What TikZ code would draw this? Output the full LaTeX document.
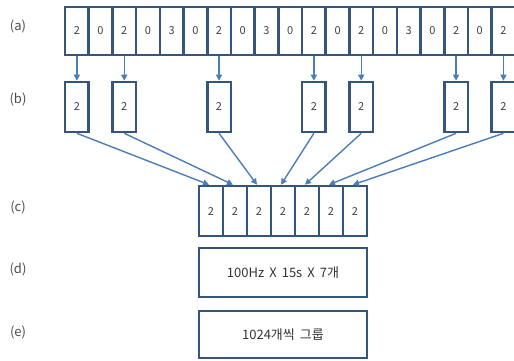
\documentclass[tikz,border=0pt]{standalone}
\usepackage{fontspec}
\setmainfont{Noto Sans CJK KR}
\usetikzlibrary{arrows.meta}
\definecolor{boxline}{HTML}{36557D}
\definecolor{arrowline}{HTML}{4A7DBA}
\tikzset{
  cell/.style={draw=boxline, line width=2.6pt, minimum width=23.7pt, minimum height=48pt, inner sep=0pt, font=\fontsize{11}{13}\selectfont, text=black!75},
  wide/.style={draw=boxline, line width=2.6pt, minimum width=168pt, minimum height=48pt, inner sep=0pt, font=\fontsize{13}{15}\selectfont, text=black!80},
  rowlabel/.style={font=\fontsize{13}{15}\selectfont, text=black!70},
  feed/.style={draw=arrowline, line width=1.4pt, -{Triangle[length=6pt,width=6pt]}}
}
\begin{document}
\begin{tikzpicture}[x=1pt, y=-1pt]
			%%%%% START %%%%%
			\useasboundingbox (0, 0) rectangle (514, 360);
			
			\node[rowlabel] (la) at (18, 26) {(a)};
			\node[rowlabel] (lb) at (18, 99) {(b)};
			\node[rowlabel] (lc) at (18, 207) {(c)};
			\node[rowlabel] (ld) at (18, 269) {(d)};
			\node[rowlabel] (le) at (18, 332) {(e)};
			
			% row (a)
			\foreach \v [count=\i] in {2,0,2,0,3,0,2,0,3,0,2,0,2,0,3,0,2,0,2}
				\node[cell] (a\i) at ({65+23.7*(\i-0.5)}, 31) {\v};
			
			% row (b)
			\foreach \i/\j in {1/1, 3/2, 7/3, 11/4, 13/5, 17/6, 19/7}{
				\node[cell, minimum height=50pt] (b\j) at ({65+23.7*(\i-0.5)}, 107) {2};
				\draw[feed] (a\i.south) -- (b\j.north);
			}
			
			% row (c)
			\foreach \k in {1,...,7}{
				\node[cell, minimum width=24pt, minimum height=50pt] (c\k) at ({199+24*(\k-0.5)}, 211) {2};
				\draw[feed] (b\k.south) -- ([xshift=-2pt]c\k.north);
			}
			
			\node[wide, minimum height=49pt] (d) at (283, 272.5) {100Hz \,X\, 15s \,X\, 7개};
			\node[wide, minimum height=47pt] (e) at (283, 334.5) {1024개씩 \,그룹};
			
			%%%%% END %%%%%
\end{tikzpicture}
\end{document}
